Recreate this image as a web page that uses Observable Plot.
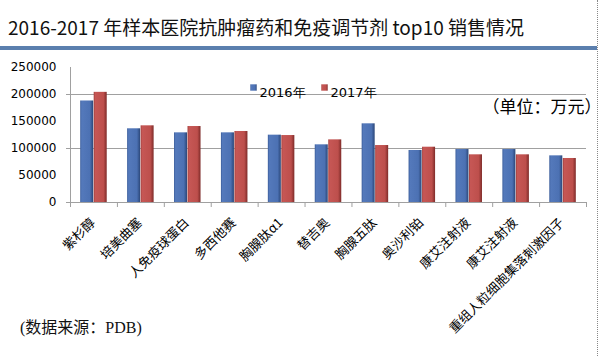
<!DOCTYPE html>
<html><head><meta charset="utf-8">
<script src="https://cdn.jsdelivr.net/npm/d3@7"></script>
<script src="https://cdn.jsdelivr.net/npm/@observablehq/plot@0.6"></script>
<style>
html,body{margin:0;padding:0;background:#fff;}
body{width:600px;height:356px;overflow:hidden;position:relative;font-family:"Noto Sans CJK SC","Noto Sans",sans-serif;}
#title{height:46px;width:597px;border-bottom:4px solid #5b7fae;box-sizing:content-box;font-size:19px;line-height:20px;padding:0;color:#111;white-space:nowrap;}
#title span{display:block;padding:17px 0 0 8px;}
#chart{height:270px;}
#chart svg{overflow:visible;}
#foot{font-family:"Liberation Serif","Noto Sans CJK SC",serif;font-size:16px;line-height:16px;padding:0 0 0 20px;color:#111;}
#edge{position:absolute;left:597px;top:0;height:356px;border-right:1px dotted #888;}
</style>
</head><body>
<svg width="0" height="0" style="position:absolute">
<defs>
<linearGradient id="g16" x1="0" x2="1" y1="0" y2="0">
<stop offset="0" stop-color="#3b5d9a"/><stop offset="0.12" stop-color="#5479bb"/><stop offset="0.75" stop-color="#4c71b3"/><stop offset="1" stop-color="#2b4779"/>
</linearGradient>
<linearGradient id="g17" x1="0" x2="1" y1="0" y2="0">
<stop offset="0" stop-color="#a23f3c"/><stop offset="0.12" stop-color="#c65755"/><stop offset="0.75" stop-color="#bd4f4c"/><stop offset="1" stop-color="#7e2b29"/>
</linearGradient>
</defs>
</svg>
<div id="title"><span>2016-2017 年样本医院抗肿瘤药和免疫调节剂 top10 销售情况</span></div>
<div id="chart"></div>
<div id="foot">(数据来源：PDB)</div>
<div id="edge"></div>
<script>
const categories = ["紫杉醇","培美曲塞","人免疫球蛋白","多西他赛","胸腺肽α1","替吉奥","胸腺五肽","奥沙利铂","康艾注射液","康艾注射液","重组人粒细胞集落刺激因子"];
const years = ["2016年","2017年"];
const sales2016 = [188000,136500,129000,129000,124700,106800,145700,96300,98100,98100,86400];
const sales2017 = [204000,142000,140700,131500,124000,116000,105500,102400,88300,88300,81500];
const yTicks = [0,50000,100000,150000,200000,250000];
const gridValues = [100000,200000];
const unitLabel = "（单位：万元）";

const idx = categories.map((c,i)=>i);
const rows16 = idx.map(i=>({i, year: years[0], value: sales2016[i]}));
const rows17 = idx.map(i=>({i, year: years[1], value: sales2017[i]}));
const fills = ["url(#g16)","url(#g17)"];
const W = 600, mL = 70, mR = 14;
const step = (W - mL - mR) / categories.length;
const lineColor = "#a0a0a0";
const sans = "DejaVu Sans, sans-serif";

const chart = Plot.plot({
  width: W, height: 270,
  marginTop: 17, marginBottom: 118, marginLeft: mL, marginRight: mR,
  style: {background: "transparent", color: "#000", fontFamily: "Noto Sans CJK SC, sans-serif"},
  x: {domain: idx, padding: 0, round: false, axis: null},
  y: {domain: [0, 250000], axis: null},
  marks: [
    Plot.gridY(gridValues, {stroke: lineColor, strokeOpacity: 1}),
    Plot.frame({anchor: "left", stroke: lineColor}),
    Plot.ruleY([0], {stroke: lineColor}),
    Plot.axisY(yTicks, {tickSize: 0, tickPadding: 14, fontSize: 12, fontFamily: sans, tickFormat: d => String(d), fill: "#000", label: null}),
    Plot.axisY([0, ...gridValues], {tickSize: 4, text: null, stroke: lineColor, label: null}),
    Plot.axisX(idx, {tickSize: 5, text: null, stroke: lineColor, dx: -step/2, label: null}),
    Plot.axisX([idx[idx.length-1]], {tickSize: 5, text: null, stroke: lineColor, dx: step/2, label: null}),
    Plot.barY(rows16, {x: "i", y: "value", fill: fills[0], insetLeft: 10.2, insetRight: 23.7}),
    Plot.barY(rows17, {x: "i", y: "value", fill: fills[1], insetLeft: 23.7, insetRight: 10.2}),
    Plot.axisX(idx, {tickSize: 0, tickPadding: 18, tickRotate: -45, tickFormat: i => categories[i], fontSize: 13, fill: "#000", dx: -1, label: null}),
    Plot.dot([years[0]], {frameAnchor: "top-left", symbol: "square", r: 3.6, fill: fills[0], dx: 183, dy: 20}),
    Plot.dot([years[1]], {frameAnchor: "top-left", symbol: "square", r: 3.6, fill: fills[1], dx: 254, dy: 20}),
    Plot.text([years[0]], {frameAnchor: "top-left", text: d=>d, dx: 189, dy: 20, textAnchor: "start", fontSize: 13, fontFamily: sans, fill: "#000"}),
    Plot.text([years[1]], {frameAnchor: "top-left", text: d=>d, dx: 260, dy: 20, textAnchor: "start", fontSize: 13, fontFamily: sans, fill: "#000"}),
    Plot.text([unitLabel], {frameAnchor: "top-right", text: d=>d, dx: 15, dy: 33, textAnchor: "end", fontSize: 17, fill: "#000"})
  ]
});
document.getElementById("chart").appendChild(chart);
</script>
</body></html>
